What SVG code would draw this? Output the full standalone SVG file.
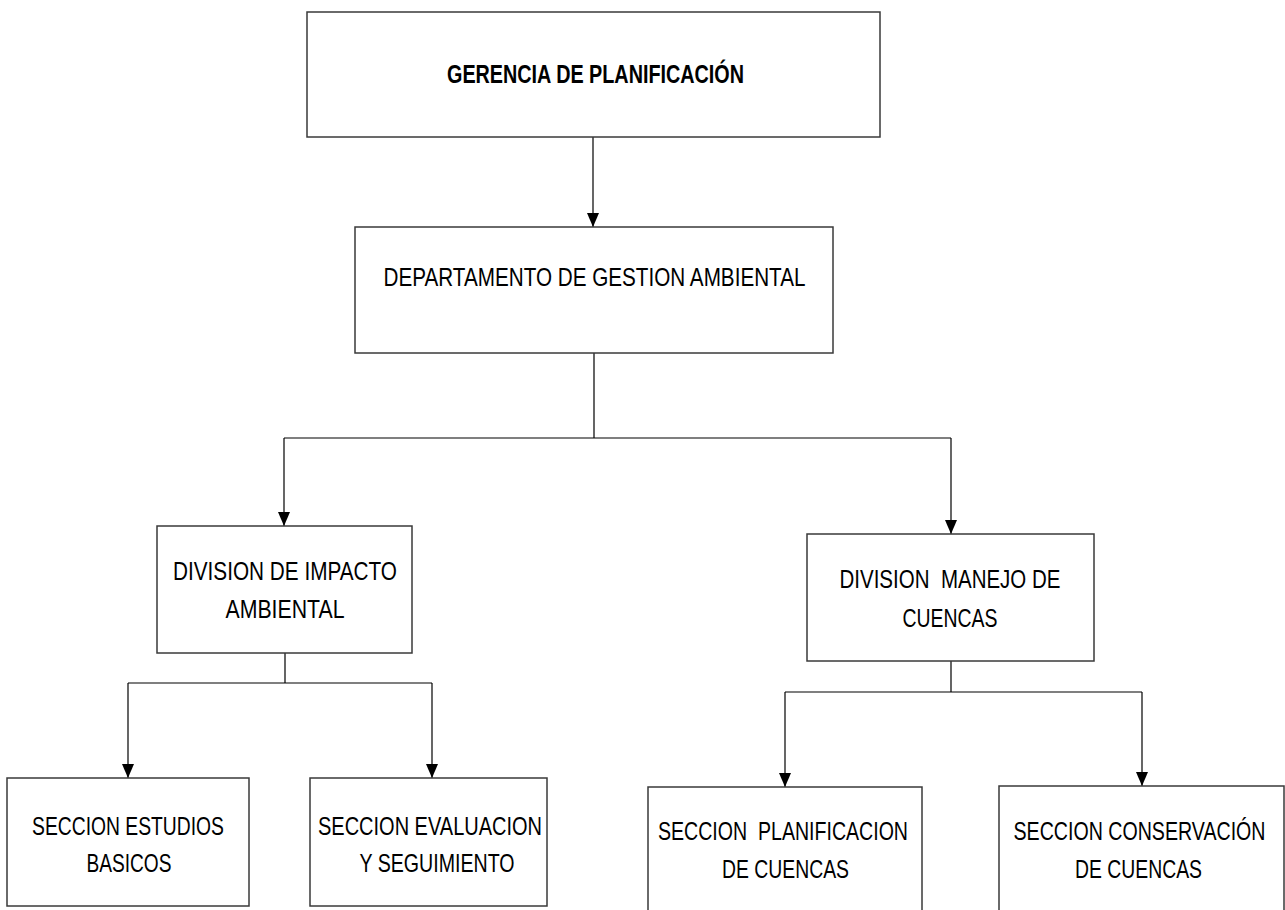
<svg xmlns="http://www.w3.org/2000/svg" width="1285" height="910" viewBox="0 0 1285 910">
<defs>
<marker id="ah" markerUnits="userSpaceOnUse" markerWidth="14" markerHeight="12" refX="14" refY="6" orient="auto">
<path d="M0,0 L14,6 L0,12 Z" fill="#000"/>
</marker>
<style>
.box{fill:#fff;stroke:#3a3a3a;stroke-width:1.5}
.t{font-family:"Liberation Sans",Arial,sans-serif;font-size:25.5px;fill:#000;text-anchor:middle}
.b{font-weight:bold;font-size:25px}
.c{fill:none;stroke:#000;stroke-width:1.2}
.a{marker-end:url(#ah)}
</style>
</defs>
<rect width="1285" height="910" fill="#fff"/>
<g id="connectors">
<path class="c a" d="M593,137 V227"/>
<path class="c" d="M594,353 V438 M284,438 H951"/>
<path class="c a" d="M284,438 V526"/>
<path class="c a" d="M951,438 V534"/>
<path class="c" d="M285,653 V683 M128,683 H432"/>
<path class="c a" d="M128,683 V778"/>
<path class="c a" d="M432,683 V778"/>
<path class="c" d="M951,661 V692 M785,692 H1142"/>
<path class="c a" d="M785,692 V787"/>
<path class="c a" d="M1142,692 V786"/>
</g>
<g id="gerencia">
<rect class="box" x="307" y="12" width="573" height="125"/>
<text class="t b" x="595.5" y="83" textLength="297" lengthAdjust="spacingAndGlyphs">GERENCIA DE PLANIFICACIÓN</text>
</g>
<g id="departamento">
<rect class="box" x="355" y="227" width="478" height="126"/>
<text class="t" x="594.5" y="286" textLength="422" lengthAdjust="spacingAndGlyphs">DEPARTAMENTO DE GESTION AMBIENTAL</text>
</g>
<g id="div-impacto">
<rect class="box" x="157" y="526" width="255" height="127"/>
<text class="t" x="285" y="580" textLength="224" lengthAdjust="spacingAndGlyphs">DIVISION DE IMPACTO</text>
<text class="t" x="285" y="618" textLength="119" lengthAdjust="spacingAndGlyphs">AMBIENTAL</text>
</g>
<g id="div-manejo">
<rect class="box" x="807" y="534" width="287" height="127"/>
<text class="t" x="950" y="588" textLength="221" lengthAdjust="spacingAndGlyphs" xml:space="preserve">DIVISION  MANEJO DE</text>
<text class="t" x="950" y="627" textLength="95" lengthAdjust="spacingAndGlyphs">CUENCAS</text>
</g>
<g id="sec-estudios">
<rect class="box" x="7" y="778" width="242" height="128"/>
<text class="t" x="128" y="835" textLength="192" lengthAdjust="spacingAndGlyphs">SECCION ESTUDIOS</text>
<text class="t" x="129" y="872" textLength="85" lengthAdjust="spacingAndGlyphs">BASICOS</text>
</g>
<g id="sec-evaluacion">
<rect class="box" x="310" y="778" width="237" height="128"/>
<text class="t" x="430" y="835" textLength="224" lengthAdjust="spacingAndGlyphs">SECCION EVALUACION</text>
<text class="t" x="437" y="872" textLength="155" lengthAdjust="spacingAndGlyphs">Y SEGUIMIENTO</text>
</g>
<g id="sec-planificacion">
<rect class="box" x="648" y="787" width="274" height="140"/>
<text class="t" x="783" y="840" textLength="250" lengthAdjust="spacingAndGlyphs" xml:space="preserve">SECCION  PLANIFICACION</text>
<text class="t" x="785.5" y="878" textLength="127" lengthAdjust="spacingAndGlyphs">DE CUENCAS</text>
</g>
<g id="sec-conservacion">
<rect class="box" x="999" y="786" width="285" height="140"/>
<text class="t" x="1139.5" y="840" textLength="252" lengthAdjust="spacingAndGlyphs">SECCION CONSERVACIÓN</text>
<text class="t" x="1138.5" y="878" textLength="127" lengthAdjust="spacingAndGlyphs">DE CUENCAS</text>
</g>
</svg>
